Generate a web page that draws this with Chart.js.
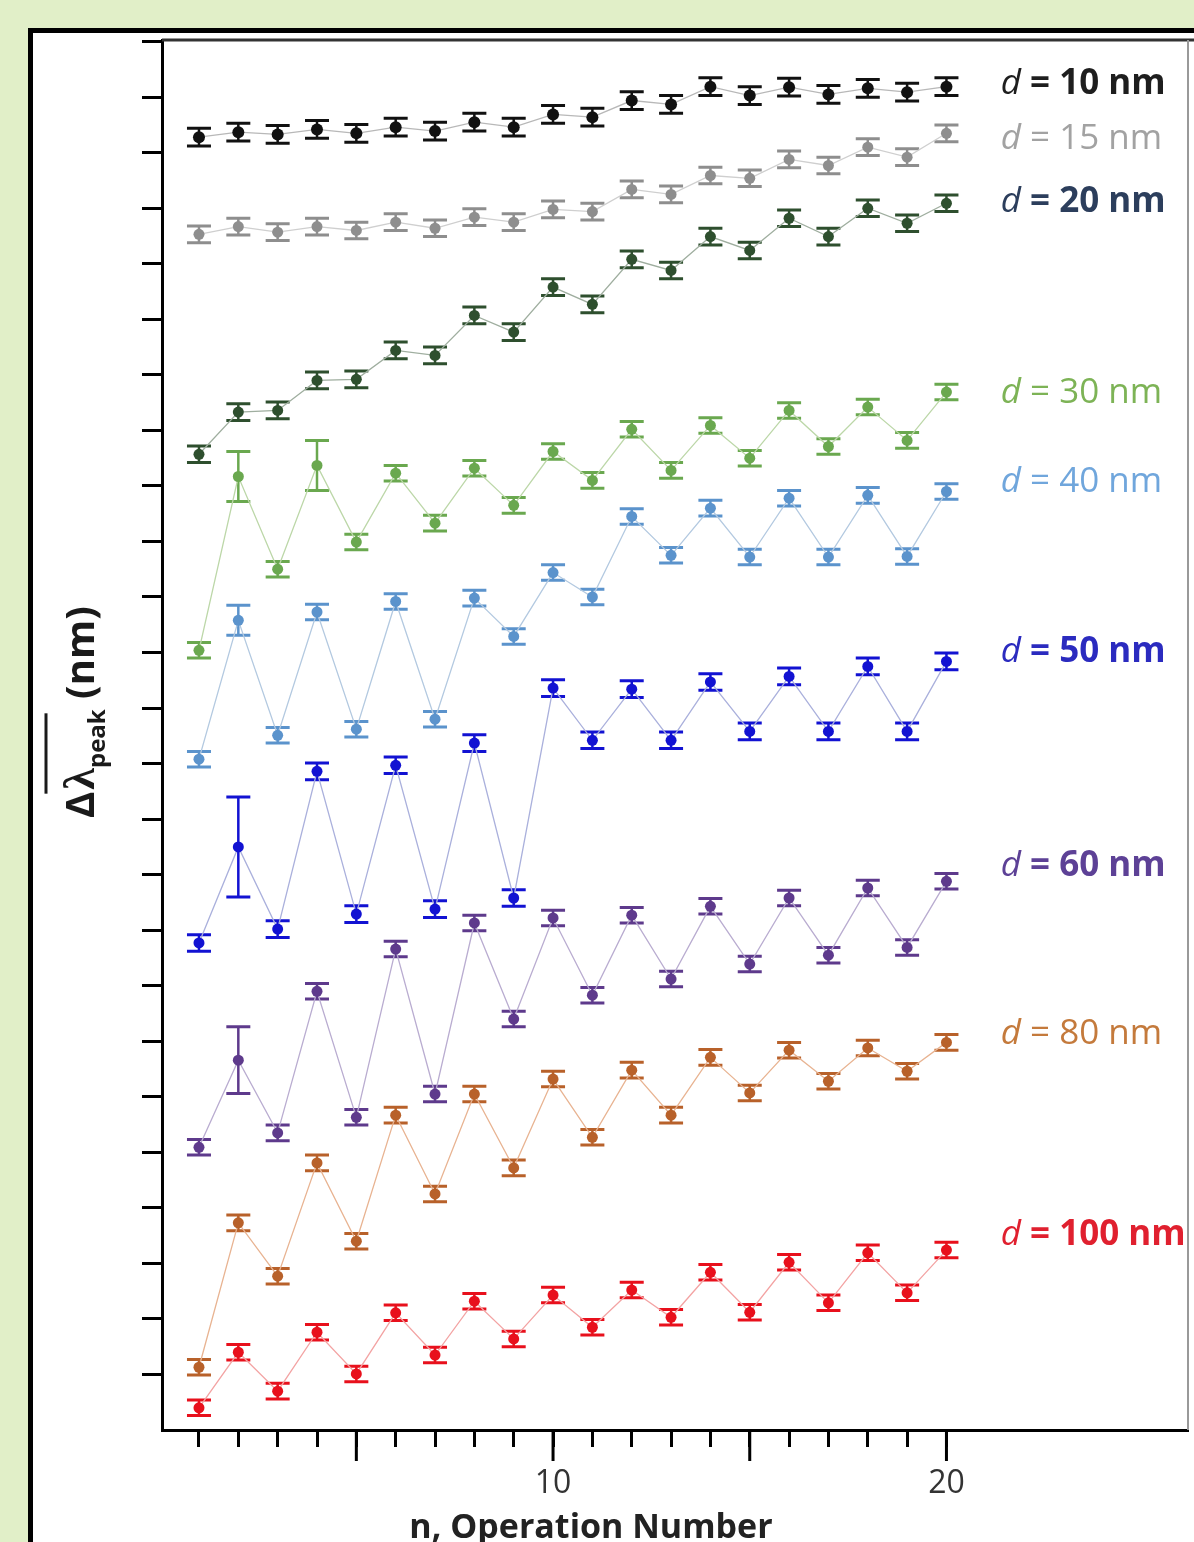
<!DOCTYPE html>
<html>
<head>
<meta charset="utf-8">
<script src="https://cdn.jsdelivr.net/npm/chart.js@4.4.1/dist/chart.umd.min.js"></script>
<style>
  html, body { margin: 0; padding: 0; background: #e1efc8; overflow: hidden; }
  #frame { position: absolute; left: 28px; top: 28px; width: 1200px; height: 1560px; background: #fff; border: 5px solid #000; }
  #chart { position: absolute; left: 0; top: 0; }
</style>
</head>
<body>
<div id="frame"></div>
<canvas id="chart" width="1194" height="1542"></canvas>
<script>
// operation number n
const operationNumbers = [1, 2, 3, 4, 5, 6, 7, 8, 9, 10, 11, 12, 13, 14, 15, 16, 17, 18, 19, 20];
const majorTicks = [5, 10, 15, 20];
const yTicks = [1, 2, 3, 4, 5, 6, 7, 8, 9, 10, 11, 12, 13, 14, 15, 16, 17, 18, 19, 20, 21, 22, 23, 24, 25];

// mean peak shift per film thickness (arbitrary offset units)
const shift10nm = [23.28, 23.37, 23.33, 23.42, 23.35, 23.46, 23.39, 23.55, 23.46, 23.69, 23.64, 23.94, 23.87, 24.19, 24.03, 24.18, 24.05, 24.16, 24.09, 24.19];
const shift15nm = [21.53, 21.67, 21.57, 21.67, 21.60, 21.75, 21.64, 21.84, 21.75, 21.98, 21.94, 22.34, 22.25, 22.59, 22.54, 22.88, 22.77, 23.10, 22.92, 23.35];
const shift20nm = [17.57, 18.33, 18.36, 18.90, 18.92, 19.44, 19.35, 20.07, 19.77, 20.58, 20.27, 21.08, 20.88, 21.49, 21.24, 21.82, 21.49, 22.00, 21.73, 22.09];
const shift30nm = [14.04, 17.17, 15.50, 17.37, 15.99, 17.23, 16.33, 17.32, 16.65, 17.62, 17.10, 18.02, 17.28, 18.09, 17.50, 18.36, 17.71, 18.42, 17.82, 18.69];
const shift40nm = [12.08, 14.58, 12.51, 14.73, 12.62, 14.92, 12.80, 14.98, 14.29, 15.44, 15.00, 16.45, 15.75, 16.60, 15.72, 16.78, 15.72, 16.83, 15.73, 16.90];
const shift50nm = [8.77, 10.50, 9.02, 11.86, 9.29, 11.97, 9.38, 12.37, 9.58, 13.36, 12.42, 13.34, 12.42, 13.47, 12.58, 13.57, 12.58, 13.75, 12.58, 13.84];
const shift60nm = [5.09, 6.66, 5.35, 7.90, 5.63, 8.66, 6.05, 9.13, 7.40, 9.22, 7.83, 9.27, 8.12, 9.43, 8.39, 9.58, 8.55, 9.76, 8.69, 9.88];
const shift80nm = [1.13, 3.73, 2.77, 4.81, 3.40, 5.67, 4.25, 6.05, 4.72, 6.32, 5.27, 6.48, 5.67, 6.71, 6.07, 6.84, 6.28, 6.88, 6.46, 6.98];
const shift100nm = [0.40, 1.40, 0.70, 1.76, 1.01, 2.11, 1.35, 2.32, 1.64, 2.43, 1.85, 2.52, 2.03, 2.84, 2.12, 3.02, 2.29, 3.19, 2.47, 3.24];

// error bar half-widths
const err10nm = [0.16, 0.16, 0.16, 0.16, 0.16, 0.16, 0.16, 0.16, 0.16, 0.16, 0.16, 0.16, 0.16, 0.16, 0.16, 0.16, 0.16, 0.16, 0.16, 0.16];
const err15nm = [0.15, 0.15, 0.15, 0.15, 0.15, 0.15, 0.15, 0.15, 0.15, 0.15, 0.15, 0.15, 0.15, 0.15, 0.15, 0.15, 0.15, 0.15, 0.15, 0.15];
const err20nm = [0.15, 0.15, 0.15, 0.15, 0.15, 0.15, 0.15, 0.15, 0.15, 0.15, 0.15, 0.15, 0.15, 0.15, 0.15, 0.15, 0.15, 0.15, 0.15, 0.15];
const err30nm = [0.14, 0.45, 0.14, 0.45, 0.14, 0.14, 0.14, 0.14, 0.14, 0.14, 0.14, 0.14, 0.14, 0.14, 0.14, 0.14, 0.14, 0.14, 0.14, 0.14];
const err40nm = [0.14, 0.27, 0.14, 0.14, 0.14, 0.14, 0.14, 0.14, 0.14, 0.14, 0.14, 0.14, 0.14, 0.14, 0.14, 0.14, 0.14, 0.14, 0.14, 0.14];
const err50nm = [0.15, 0.90, 0.15, 0.15, 0.15, 0.15, 0.15, 0.15, 0.15, 0.15, 0.15, 0.15, 0.15, 0.15, 0.15, 0.15, 0.15, 0.15, 0.15, 0.15];
const err60nm = [0.14, 0.60, 0.14, 0.14, 0.14, 0.14, 0.14, 0.14, 0.14, 0.14, 0.14, 0.14, 0.14, 0.14, 0.14, 0.14, 0.14, 0.14, 0.14, 0.14];
const err80nm = [0.14, 0.14, 0.14, 0.14, 0.14, 0.14, 0.14, 0.14, 0.14, 0.14, 0.14, 0.14, 0.14, 0.14, 0.14, 0.14, 0.14, 0.14, 0.14, 0.14];
const err100nm = [0.14, 0.14, 0.14, 0.14, 0.14, 0.14, 0.14, 0.14, 0.14, 0.14, 0.14, 0.14, 0.14, 0.14, 0.14, 0.14, 0.14, 0.14, 0.14, 0.14];

const thickness = ['10', '15', '20', '30', '40', '50', '60', '80', '100'];
const labelLevel = [24.23, 23.24, 22.11, 18.67, 17.07, 14.01, 10.15, 7.13, 3.51];

const shifts = [shift10nm, shift15nm, shift20nm, shift30nm, shift40nm, shift50nm, shift60nm, shift80nm, shift100nm];
const errors = [err10nm, err15nm, err20nm, err30nm, err40nm, err50nm, err60nm, err80nm, err100nm];

// styles per series
const dotColor  = ['#111111', '#8e8e8e', '#2e4f2e', '#6aa84f', '#5b93cc', '#1212d2', '#5e3a8c', '#b8612a', '#e8101c'];
const lineColor = ['#b8b8b8', '#cfcfcf', '#9fae9f', '#bcd7a8', '#b3c9e0', '#aab0dc', '#b9acd0', '#e8b391', '#f3a3a3'];
const textColor = ['#1e1e1e', '#a2a2a2', '#2c3e5c', '#7db356', '#70a6dc', '#2b2bbf', '#5d4196', '#c47a3c', '#e0202f'];
const textBold  = [true, false, true, false, false, true, true, false, true];

const datasets = thickness.map((d, i) => ({
  label: 'd = ' + d + ' nm',
  data: operationNumbers.map((n, j) => ({ x: n, y: shifts[i][j] })),
  errors: errors[i],
  showLine: true,
  borderColor: lineColor[i],
  borderWidth: 1.3,
  pointRadius: i === 0 ? 6 : 5.5,
  pointBackgroundColor: dotColor[i],
  pointBorderWidth: 0,
  barColor: dotColor[i],
  textColor: textColor[i],
  textBold: textBold[i],
  labelAt: labelLevel[i]
}));

const errorBars = {
  id: 'errorBars',
  beforeDatasetsDraw(chart) {
    const { ctx, scales: { x, y } } = chart;
    ctx.save();
    chart.data.datasets.forEach(ds => {
      ctx.strokeStyle = ds.barColor;
      ds.data.forEach((p, j) => {
        const e = ds.errors[j];
        const px = x.getPixelForValue(p.x);
        const top = y.getPixelForValue(p.y + e);
        const bot = y.getPixelForValue(p.y - e);
        ctx.lineWidth = 2.5;
        ctx.beginPath();
        ctx.moveTo(px, top); ctx.lineTo(px, bot);
        ctx.stroke();
        ctx.lineWidth = 3;
        ctx.beginPath();
        ctx.moveTo(px - 12, top); ctx.lineTo(px + 12, top);
        ctx.moveTo(px - 12, bot); ctx.lineTo(px + 12, bot);
        ctx.stroke();
      });
    });
    ctx.restore();
  }
};

const decorations = {
  id: 'decorations',
  afterDraw(chart) {
    const { ctx, chartArea, scales: { x, y } } = chart;
    ctx.save();
    // plot frame top / right
    ctx.strokeStyle = '#333';
    ctx.lineWidth = 3;
    ctx.beginPath();
    ctx.moveTo(chartArea.left, chartArea.top); ctx.lineTo(1194, chartArea.top);
    ctx.stroke();
    ctx.strokeStyle = '#999';
    ctx.lineWidth = 2;
    ctx.beginPath();
    ctx.moveTo(chartArea.right, chartArea.top); ctx.lineTo(chartArea.right, chartArea.bottom);
    ctx.stroke();

    // long ticks at 5, 10, 15, 20
    ctx.strokeStyle = '#000';
    ctx.lineWidth = 3;
    majorTicks.forEach(v => {
      const px = x.getPixelForValue(v);
      ctx.beginPath();
      ctx.moveTo(px, chartArea.bottom); ctx.lineTo(px, chartArea.bottom + 31);
      ctx.stroke();
    });

    // series labels
    ctx.textBaseline = 'middle';
    ctx.textAlign = 'left';
    chart.data.datasets.forEach(ds => {
      const lx = x.getPixelForValue(21.38);
      const ly = y.getPixelForValue(ds.labelAt);
      const w = ds.textBold ? 'bold ' : '';
      ctx.fillStyle = ds.textColor;
      ctx.font = 'italic 35px "Open Sans"';
      ctx.fillText('d', lx, ly);
      const dw = ctx.measureText('d').width;
      ctx.font = w + '35px "Open Sans"';
      ctx.fillText(ds.label.slice(1), lx + dw, ly);
    });

    // x title
    ctx.fillStyle = '#222';
    ctx.textAlign = 'center';
    ctx.textBaseline = 'alphabetic';
    ctx.font = 'bold 34px "Open Sans"';
    ctx.fillText('n, Operation Number', 591, 1538);

    // y title: Δλ̄_peak (nm)
    ctx.translate(94, 818);
    ctx.rotate(-Math.PI / 2);
    ctx.textAlign = 'left';
    ctx.fillStyle = '#1a1a1a';
    let cx = 0;
    ctx.font = 'bold 40px "Open Sans"';
    ctx.fillText('Δ', cx, 0);
    cx += ctx.measureText('Δ').width + 2;
    const barStart = cx;
    ctx.font = 'bold 44px "Liberation Serif"';
    ctx.fillText('λ', cx, 0);
    cx += ctx.measureText('λ').width;
    ctx.font = 'bold 24px "Open Sans"';
    ctx.fillText('peak', cx, 11);
    cx += ctx.measureText('peak').width;
    ctx.strokeStyle = '#1a1a1a';
    ctx.lineWidth = 3;
    ctx.beginPath();
    ctx.moveTo(barStart - 4, -48); ctx.lineTo(cx - 4, -48);
    ctx.stroke();
    ctx.font = 'bold 40px "Open Sans"';
    ctx.fillText(' (nm)', cx, 0);
    ctx.restore();
  }
};

new Chart(document.getElementById('chart'), {
  type: 'line',
  data: { datasets },
  options: {
    responsive: false,
    animation: false,
    layout: { padding: { top: 40, right: 0, left: 0, bottom: 0 } },
    plugins: { legend: { display: false }, tooltip: { enabled: false } },
    elements: { line: { tension: 0 } },
    scales: {
      x: {
        type: 'linear',
        min: 0.06,
        max: 26.14,
        afterBuildTicks: s => { s.ticks = operationNumbers.map(v => ({ value: v })); },
        afterFit: s => { s.height = 112; },
        grid: { drawOnChartArea: false, tickLength: 17, tickWidth: 3, tickColor: '#000' },
        border: { display: true, color: '#000', width: 3 },
        ticks: {
          autoSkip: false,
          maxRotation: 0,
          padding: 18,
          color: '#333',
          font: { family: 'Open Sans', size: 32 },
          callback: v => (v % 10 === 0 ? String(v) : '')
        }
      },
      y: {
        type: 'linear',
        min: 0,
        max: 25.03,
        afterBuildTicks: s => { s.ticks = yTicks.map(v => ({ value: v })); },
        afterFit: s => { s.width = 162; },
        grid: { drawOnChartArea: false, tickLength: 20, tickWidth: 3, tickColor: '#000' },
        border: { display: true, color: '#000', width: 3 },
        ticks: { callback: () => '' }
      }
    }
  },
  plugins: [errorBars, decorations]
});
</script>
</body>
</html>
